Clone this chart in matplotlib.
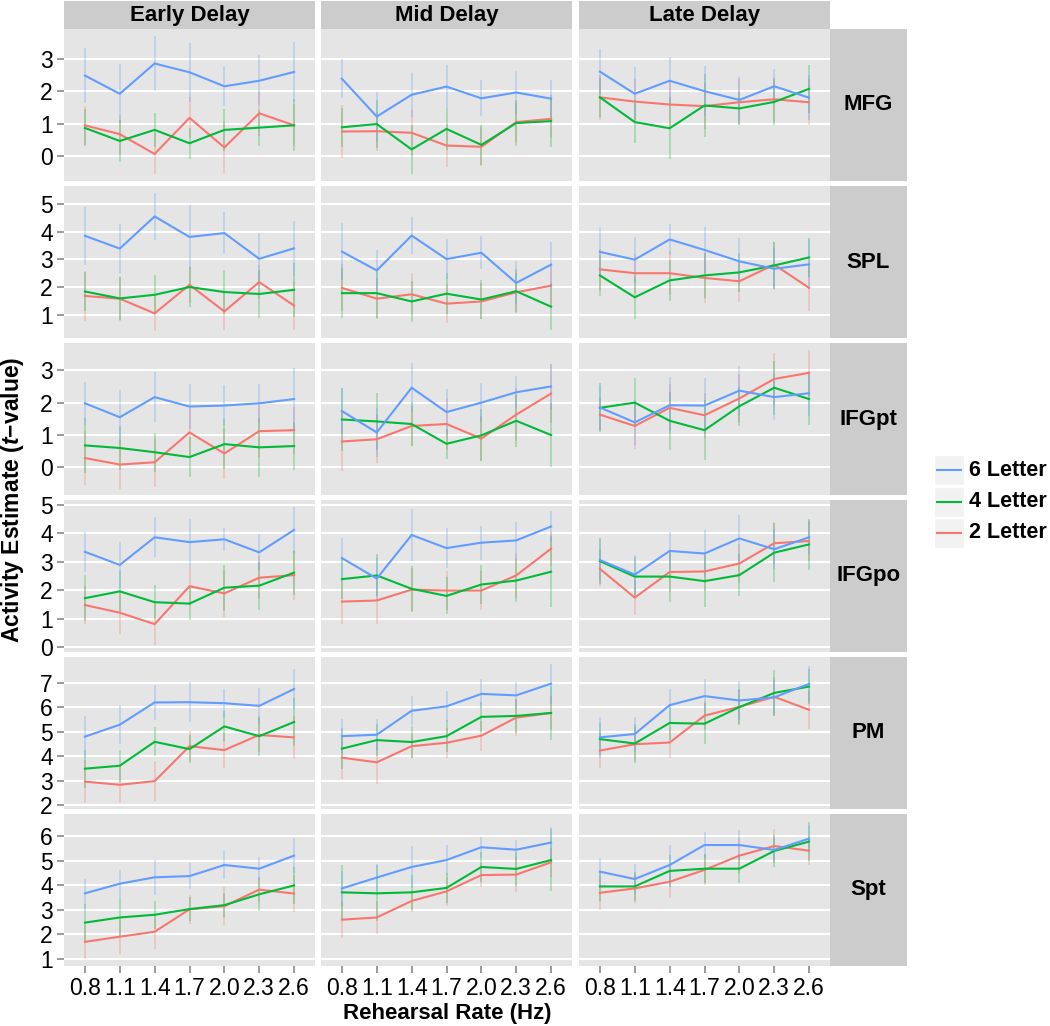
import numpy as np
import matplotlib
matplotlib.use('Agg')
import matplotlib.pyplot as plt
from matplotlib.patches import Rectangle
from matplotlib.lines import Line2D

################################################################################
# Data: one list per delay period (Early, Mid, Late)
rates = ['0.8', '1.1', '1.4', '1.7', '2.0', '2.3', '2.6']
delays = ['Early Delay', 'Mid Delay', 'Late Delay']
regions = ['MFG', 'SPL', 'IFGpt', 'IFGpo', 'PM', 'Spt']
letters = ['6 Letter', '4 Letter', '2 Letter']

mfg_6 = [[2.48, 1.92, 2.85, 2.58, 2.15, 2.32, 2.59],
         [2.38, 1.22, 1.89, 2.14, 1.78, 1.96, 1.77],
         [2.60, 1.92, 2.32, 2.00, 1.73, 2.15, 1.80]]
mfg_6_err = [[0.85, 0.90, 0.85, 0.90, 0.62, 0.78, 0.93],
             [0.60, 0.75, 0.67, 0.66, 0.55, 0.65, 0.56],
             [0.69, 0.82, 0.72, 0.77, 0.70, 0.54, 0.70]]
mfg_4 = [[0.87, 0.47, 0.81, 0.40, 0.81, 0.88, 0.95],
         [0.89, 0.99, 0.21, 0.84, 0.35, 1.02, 1.08],
         [1.81, 1.05, 0.86, 1.56, 1.47, 1.67, 2.07]]
mfg_4_err = [[0.57, 0.65, 0.52, 0.48, 0.65, 0.55, 0.80],
             [0.60, 0.75, 0.75, 0.65, 0.62, 0.70, 0.81],
             [0.60, 0.65, 0.95, 0.98, 0.50, 0.70, 0.74]]
mfg_2 = [[0.95, 0.68, 0.07, 1.18, 0.27, 1.32, 0.95],
         [0.76, 0.77, 0.72, 0.33, 0.29, 1.05, 1.15],
         [1.81, 1.68, 1.59, 1.54, 1.66, 1.75, 1.66]]
mfg_2_err = [[0.60, 0.60, 0.63, 0.63, 0.77, 0.70, 0.65],
             [0.80, 0.60, 0.70, 0.65, 0.60, 0.60, 0.60],
             [0.70, 0.70, 0.75, 0.70, 0.70, 0.70, 0.70]]

spl_6 = [[3.85, 3.39, 4.55, 3.81, 3.95, 3.02, 3.40],
         [3.28, 2.60, 3.86, 3.01, 3.24, 2.15, 2.81],
         [3.27, 2.99, 3.72, 3.34, 2.93, 2.66, 2.82]]
spl_6_err = [[1.05, 0.88, 0.86, 1.14, 0.75, 0.95, 1.00],
             [1.04, 0.73, 0.68, 0.71, 0.60, 0.78, 0.83],
             [0.86, 0.83, 0.55, 0.82, 0.83, 0.75, 0.90]]
spl_4 = [[1.84, 1.59, 1.72, 2.00, 1.82, 1.75, 1.90],
         [1.78, 1.78, 1.48, 1.76, 1.55, 1.85, 1.29],
         [2.42, 1.63, 2.24, 2.42, 2.53, 2.78, 3.07]]
spl_4_err = [[0.70, 0.77, 0.70, 0.72, 0.80, 0.85, 0.97],
             [0.90, 0.90, 0.75, 0.75, 0.70, 0.80, 0.85],
             [0.75, 0.78, 0.75, 0.80, 0.70, 0.85, 0.70]]
spl_2 = [[1.68, 1.58, 1.05, 2.08, 1.12, 2.18, 1.33],
         [1.97, 1.58, 1.74, 1.40, 1.48, 1.81, 2.05],
         [2.64, 2.50, 2.50, 2.33, 2.21, 2.81, 1.97]]
spl_2_err = [[0.90, 0.80, 0.63, 0.65, 0.67, 0.60, 0.89],
             [0.85, 0.75, 0.75, 0.70, 0.65, 0.70, 0.75],
             [0.75, 0.70, 0.80, 0.90, 0.75, 0.80, 0.85]]

ifgpt_6 = [[1.98, 1.55, 2.17, 1.88, 1.91, 1.98, 2.11],
           [1.74, 1.08, 2.46, 1.71, 2.00, 2.32, 2.50],
           [1.85, 1.39, 1.92, 1.91, 2.37, 2.17, 2.29]]
ifgpt_6_err = [[0.67, 0.84, 0.77, 0.70, 0.63, 0.60, 0.95],
               [0.70, 0.75, 0.76, 0.70, 0.60, 0.50, 0.69],
               [0.70, 0.70, 0.87, 0.85, 0.75, 0.70, 0.70]]
ifgpt_4 = [[0.68, 0.60, 0.47, 0.32, 0.72, 0.62, 0.66],
           [1.48, 1.42, 1.34, 0.73, 0.99, 1.44, 1.00],
           [1.84, 2.00, 1.44, 1.15, 1.89, 2.46, 2.11]]
ifgpt_4_err = [[0.85, 0.68, 0.60, 0.62, 0.78, 0.90, 0.73],
               [0.96, 0.88, 0.68, 0.47, 0.80, 0.80, 1.00],
               [0.76, 0.75, 0.90, 0.93, 0.60, 0.83, 0.80]]
ifgpt_2 = [[0.29, 0.09, 0.16, 1.08, 0.43, 1.12, 1.15],
           [0.80, 0.87, 1.28, 1.34, 0.89, 1.63, 2.28],
           [1.63, 1.28, 1.84, 1.61, 2.13, 2.73, 2.92]]
ifgpt_2_err = [[0.82, 0.75, 0.76, 0.74, 0.80, 0.80, 0.72],
               [0.90, 0.74, 0.62, 0.80, 0.70, 0.82, 0.90],
               [0.50, 0.70, 0.72, 0.70, 0.75, 0.80, 0.71]]

ifgpo_6 = [[3.35, 2.89, 3.86, 3.69, 3.79, 3.33, 4.12],
           [3.13, 2.41, 3.94, 3.48, 3.67, 3.75, 4.24],
           [3.06, 2.55, 3.38, 3.29, 3.82, 3.44, 3.86]]
ifgpo_6_err = [[0.70, 0.80, 0.70, 0.83, 0.40, 0.63, 0.80],
               [0.70, 0.75, 0.90, 0.70, 0.60, 0.65, 0.56],
               [0.73, 0.70, 0.68, 0.83, 0.83, 0.70, 0.60]]
ifgpo_4 = [[1.72, 1.96, 1.58, 1.53, 2.09, 2.16, 2.62],
           [2.39, 2.52, 2.05, 1.80, 2.20, 2.34, 2.65],
           [3.02, 2.48, 2.48, 2.32, 2.53, 3.32, 3.61]]
ifgpo_4_err = [[0.81, 0.71, 0.60, 0.59, 0.81, 0.84, 0.77],
               [0.70, 0.74, 0.80, 0.65, 0.70, 0.75, 1.24],
               [0.80, 0.70, 0.89, 0.91, 0.75, 1.03, 0.90]]
ifgpo_2 = [[1.48, 1.21, 0.81, 2.14, 1.89, 2.44, 2.53],
           [1.60, 1.64, 2.02, 1.99, 1.99, 2.52, 3.46],
           [2.75, 1.74, 2.64, 2.66, 2.94, 3.65, 3.73]]
ifgpo_2_err = [[0.68, 0.76, 0.75, 0.71, 0.83, 0.75, 0.88],
               [0.80, 0.84, 0.75, 0.70, 0.70, 0.80, 0.60],
               [0.65, 0.62, 0.70, 0.70, 0.70, 0.73, 0.70]]

pm_6 = [[4.80, 5.29, 6.20, 6.21, 6.17, 6.06, 6.75],
        [4.82, 4.88, 5.86, 6.04, 6.55, 6.49, 6.97],
        [4.77, 4.91, 6.09, 6.46, 6.28, 6.41, 6.96]]
pm_6_err = [[0.86, 0.81, 0.70, 0.82, 0.60, 0.74, 0.80],
            [0.71, 0.65, 0.59, 0.62, 0.59, 0.54, 0.82],
            [0.83, 0.68, 0.68, 0.72, 0.79, 0.70, 0.73]]
pm_4 = [[3.49, 3.61, 4.59, 4.29, 5.22, 4.82, 5.40],
        [4.31, 4.66, 4.58, 4.82, 5.61, 5.65, 5.77],
        [4.70, 4.52, 5.36, 5.33, 6.01, 6.59, 6.85]]
pm_4_err = [[0.78, 0.66, 0.60, 0.57, 0.61, 0.81, 1.00],
            [0.85, 0.65, 0.65, 0.65, 0.60, 0.70, 1.10],
            [0.65, 0.80, 0.70, 0.84, 0.75, 0.94, 0.70]]
pm_2 = [[2.96, 2.83, 2.98, 4.41, 4.25, 4.87, 4.77],
        [3.94, 3.75, 4.41, 4.55, 4.84, 5.58, 5.77],
        [4.23, 4.49, 4.56, 5.66, 6.02, 6.43, 5.90]]
pm_2_err = [[0.88, 0.75, 0.83, 0.62, 0.72, 0.70, 0.87],
            [0.89, 0.88, 0.50, 0.62, 0.62, 0.75, 0.70],
            [0.71, 0.70, 0.63, 0.60, 0.70, 0.80, 0.77]]

spt_6 = [[3.67, 4.06, 4.32, 4.37, 4.82, 4.67, 5.20],
         [3.87, 4.31, 4.74, 5.02, 5.54, 5.44, 5.73],
         [4.55, 4.25, 4.82, 5.63, 5.63, 5.43, 5.89]]
spt_6_err = [[0.58, 0.56, 0.70, 0.54, 0.57, 0.46, 0.71],
             [0.70, 0.55, 0.84, 0.61, 0.43, 0.40, 0.65],
             [0.57, 0.60, 0.81, 0.52, 0.61, 0.50, 0.55]]
spt_4 = [[2.48, 2.69, 2.80, 3.03, 3.19, 3.63, 3.99],
         [3.71, 3.67, 3.71, 3.89, 4.74, 4.66, 5.02],
         [3.95, 3.95, 4.58, 4.67, 4.67, 5.39, 5.77]]
spt_4_err = [[0.76, 0.78, 0.57, 0.50, 0.50, 0.68, 0.76],
             [1.11, 1.13, 0.70, 0.60, 0.60, 0.70, 1.26],
             [0.60, 0.60, 0.65, 0.60, 0.60, 0.65, 0.79]]
spt_2 = [[1.70, 1.91, 2.11, 3.02, 3.15, 3.82, 3.66],
         [2.60, 2.69, 3.36, 3.75, 4.41, 4.43, 4.93],
         [3.69, 3.87, 4.14, 4.62, 5.20, 5.59, 5.40]]
spt_2_err = [[0.70, 0.72, 0.68, 0.58, 0.78, 0.50, 0.74],
             [0.73, 0.67, 0.44, 0.60, 0.50, 0.70, 0.60],
             [0.70, 0.60, 0.65, 0.60, 0.70, 0.69, 0.60]]

# y ticks for each row (free scales per row)
yticks = [[0, 1, 2, 3], [1, 2, 3, 4, 5], [0, 1, 2, 3],
          [0, 1, 2, 3, 4, 5], [2, 3, 4, 5, 6, 7], [1, 2, 3, 4, 5, 6]]

################################################################################
# Style (ggplot2 grey theme look-alike)
plt.rcParams['font.family'] = ['Liberation Sans', 'DejaVu Sans']
plt.rcParams['mathtext.fontset'] = 'custom'
plt.rcParams['mathtext.it'] = 'Liberation Sans:italic:bold'
plt.rcParams['mathtext.rm'] = 'Liberation Sans:bold'

clrs = {'6 Letter': '#619CFF', '4 Letter': '#00BA38', '2 Letter': '#F8766D'}
panel_bg = '#E5E5E5'
strip_bg = '#CCCCCC'
tick_clr = '#7F7F7F'

W, H = 1050, 1026
fig = plt.figure(figsize=(W/100, H/100), dpi=100)

def px_axes(left, top, width, height, **kw):
    """Add axes using pixel coordinates measured from the top-left"""
    return fig.add_axes([left/W, 1-(top+height)/H, width/W, height/H], **kw)

def px_box(left, top, width, height, text, **kw):
    """Gray strip box with a bold label"""
    ax = px_axes(left, top, width, height)
    ax.set_xlim(0, 1)
    ax.set_ylim(0, 1)
    ax.set_facecolor(strip_bg)
    ax.set_xticks([])
    ax.set_yticks([])
    for s in ax.spines.values():
        s.set_visible(False)
    ax.text(0.5, 0.5, text, ha='center', va='center', fontsize=16,
            fontweight='bold', **kw)
    return ax

# pixel layout
col_left = [64, 321, 579]
col_w = 251
row_top = [29, 186, 343, 500, 657, 814]
row_h = 152
ylims = [(-0.76, 3.91), (0.16, 5.65), (-0.85, 3.84),
         (-0.17, 5.17), (1.84, 8.06), (0.72, 6.89)]

region_data = {
    'MFG':   [(mfg_6, mfg_6_err), (mfg_4, mfg_4_err), (mfg_2, mfg_2_err)],
    'SPL':   [(spl_6, spl_6_err), (spl_4, spl_4_err), (spl_2, spl_2_err)],
    'IFGpt': [(ifgpt_6, ifgpt_6_err), (ifgpt_4, ifgpt_4_err), (ifgpt_2, ifgpt_2_err)],
    'IFGpo': [(ifgpo_6, ifgpo_6_err), (ifgpo_4, ifgpo_4_err), (ifgpo_2, ifgpo_2_err)],
    'PM':    [(pm_6, pm_6_err), (pm_4, pm_4_err), (pm_2, pm_2_err)],
    'Spt':   [(spt_6, spt_6_err), (spt_4, spt_4_err), (spt_2, spt_2_err)],
}

x = np.arange(len(rates))

for r, region in enumerate(regions):
    for c, delay in enumerate(delays):
        ax = px_axes(col_left[c], row_top[r], col_w, row_h)
        ax.set_facecolor(panel_bg)
        for s in ax.spines.values():
            s.set_visible(False)
        ax.set_xlim(-0.6, len(rates) - 0.4)
        ax.set_ylim(*ylims[r])
        ax.set_yticks(yticks[r])
        ax.set_xticks(x)
        ax.grid(axis='y', color='white', linewidth=1.5)
        ax.set_axisbelow(True)
        ax.tick_params(axis='both', length=5, width=1.1, color=tick_clr,
                       labelsize=16.5, labelcolor='black')
        ax.tick_params(axis='y', pad=3)
        ax.tick_params(axis='x', pad=3)
        if c == 0:
            ax.set_yticklabels([str(t) for t in yticks[r]])
        else:
            ax.tick_params(axis='y', length=0, labelleft=False)
        if r == len(regions) - 1:
            ax.set_xticklabels(rates)
        else:
            ax.tick_params(axis='x', length=0, labelbottom=False)
        # draw 2 Letter first, 6 Letter last
        for k in [2, 1, 0]:
            vals, errs = region_data[region][k]
            v = np.array(vals[c])
            e = np.array(errs[c])
            clr = clrs[letters[k]]
            ax.vlines(x, v - e, v + e, color=clr, alpha=0.28, linewidth=1.4, zorder=2)
            ax.plot(x, v, color=clr, linewidth=1.5, zorder=3)

    # right-hand strip
    px_box(830, row_top[r], 77, row_h, region)

# top strips
for c, delay in enumerate(delays):
    px_box(col_left[c], 1, col_w, 28, delay)

# axis titles
fig.text(447/W, 1 - 1013/H, 'Rehearsal Rate (Hz)', ha='center', va='center',
         fontsize=16, fontweight='bold')
fig.text(13/W, 1 - 500/H, r'Activity Estimate ($t$$-$value)', ha='center',
         va='center', rotation=90, fontsize=16.5, fontweight='bold')

# legend
lax = px_axes(930, 452, 120, 98)
lax.set_xlim(930, 1050)
lax.set_ylim(550, 452)
lax.axis('off')
for i, lbl in enumerate(letters):
    yc = 470 + i*31.5
    lax.add_patch(Rectangle((934, yc - 15), 30, 30, facecolor='#F2F2F2',
                            edgecolor='white', linewidth=1))
    lax.add_line(Line2D([937, 961], [yc, yc], color=clrs[lbl], linewidth=1.5))
    lax.text(969, yc, lbl, ha='left', va='center', fontsize=15.5, fontweight='bold')

plt.savefig('out.png', dpi=100)
